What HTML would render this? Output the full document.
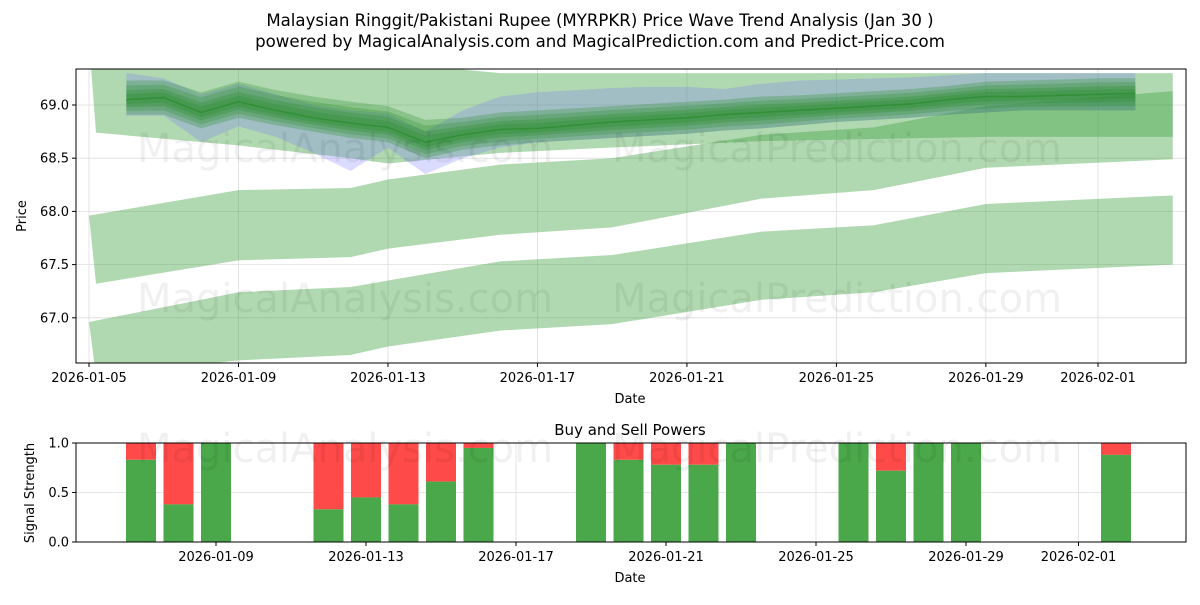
<!DOCTYPE html>
<html><head><meta charset="utf-8"><style>
body{margin:0;background:#fff;}
svg text{font-family:"DejaVu Sans","Liberation Sans",sans-serif;}
</style></head><body>
<svg id="c" width="1200" height="600" xmlns="http://www.w3.org/2000/svg">
<text x="600" y="26" text-anchor="middle" font-size="16.6">Malaysian Ringgit/Pakistani Rupee (MYRPKR) Price Wave Trend Analysis (Jan 30 )</text>
<text x="600" y="47" text-anchor="middle" font-size="16.6">powered by MagicalAnalysis.com and MagicalPrediction.com and Predict-Price.com</text>
<g id="topg"></g>
<g id="botg"></g>
</svg>
<script>
// ---- data ----
const bandDates = [0,4,7,8,11,14,18,21,24,29]; // days from 2026-01-05
const band1Hi = [69.6,69.6,69.5,69.4,69.3,69.3,69.3,69.3,69.3,69.3];
const band1Lo = [68.74,68.62,68.5,68.45,68.55,68.6,68.66,68.68,68.70,68.70];
const band2Hi = [67.96,68.2,68.22,68.3,68.44,68.5,68.72,68.79,68.99,69.13];
const band2Lo = [67.32,67.54,67.57,67.65,67.78,67.85,68.12,68.20,68.41,68.49];
const band3Hi = [66.96,67.24,67.29,67.35,67.53,67.59,67.81,67.87,68.07,68.15];
const band3Lo = [66.45,66.60,66.65,66.73,66.88,66.94,67.17,67.24,67.42,67.50];
const waveDates = [1,2,3,4,5,6,7,8,9,10,11,12,13,14,15,16,17,18,19,20,21,22,23,24,25,26,27,28];
const center = [69.05,69.07,68.93,69.03,68.95,68.88,68.83,68.79,68.65,68.72,68.77,68.78,68.81,68.84,68.86,68.88,68.91,68.93,68.95,68.97,68.99,69.01,69.05,69.08,69.08,69.09,69.10,69.11];
const greenHi = [69.23,69.23,69.12,69.22,69.14,69.08,69.03,68.99,68.86,68.88,68.93,68.95,68.97,68.99,69.01,69.03,69.05,69.08,69.09,69.11,69.13,69.15,69.18,69.22,69.23,69.24,69.25,69.25];
const greenLo = [68.91,68.91,68.78,68.88,68.81,68.75,68.69,68.65,68.50,68.58,68.62,68.65,68.67,68.69,68.71,68.73,68.76,68.78,68.81,68.84,68.86,68.88,68.91,68.93,68.95,68.95,68.95,68.95];
const blueHi = [69.3,69.25,69.1,69.2,69.1,69.0,68.95,68.92,68.75,68.95,69.08,69.12,69.14,69.16,69.17,69.17,69.15,69.2,69.23,69.24,69.25,69.26,69.28,69.3,69.3,69.3,69.3,69.3];
const blueLo = [68.9,68.9,68.65,68.8,68.7,68.55,68.38,68.6,68.35,68.5,68.6,68.65,68.67,68.69,68.71,68.73,68.76,68.78,68.81,68.84,68.86,68.88,68.91,68.93,68.95,68.95,68.95,68.95];
const yTicks = [67.0,67.5,68.0,68.5,69.0];
const xTickDays = [0,4,8,12,16,20,24,27];
const xTickLabels = ["2026-01-05","2026-01-09","2026-01-13","2026-01-17","2026-01-21","2026-01-25","2026-01-29","2026-02-01"];
const barDays = [2,3,4,7,8,9,10,11,14,15,16,17,18,21,22,23,24,28];
const buyPower = [0.83,0.38,1.0,0.33,0.45,0.38,0.61,0.95,1.0,0.83,0.78,0.78,1.0,1.0,0.72,1.0,1.0,0.88];
const botTickDays = [4,8,12,16,20,24,27];
const botTickLabels = ["2026-01-09","2026-01-13","2026-01-17","2026-01-21","2026-01-25","2026-01-29","2026-02-01"];
const sigTicks = [0.0,0.5,1.0];

const NS="http://www.w3.org/2000/svg";
function mk(parent,tag,attrs,text){const e=document.createElementNS(NS,tag);for(const k in attrs)e.setAttribute(k,attrs[k]);if(text!==undefined)e.textContent=text;parent.appendChild(e);return e;}
const L=76,R=1186,T=69,B=363;
const xs=d=>89+d*37.37;
const ys=v=>105+(69-v)*106.4;
const bT=443,bB=542;
const xb=d=>216+(d-4)*37.5;
const yb=v=>bB-(bB-bT)*v;

const topG=document.getElementById('topg');
const svgRoot=document.getElementById('c');
const defs=mk(topG,'defs',{});
const cp=mk(defs,'clipPath',{id:'cp'});mk(cp,'rect',{x:L,y:T,width:R-L,height:B-T});
yTicks.forEach(v=>{const g=mk(topG,'line',{x1:L,x2:R,y1:ys(v),y2:ys(v),stroke:'#ddd','stroke-width':0.8});

});
xTickDays.forEach(d=>{const g=mk(topG,'line',{x1:xs(d),x2:xs(d),y1:T,y2:B,stroke:'#ddd','stroke-width':0.8});

});
const plot=mk(topG,'g',{'clip-path':'url(#cp)'});
function band(days,hi,lo,fill,name,loShift){
 const sh=loShift||0;
 let p=days.map((d,i)=>xs(d)+','+ys(hi[i])).join(' ');
 p+=' '+days.map((d,i)=>(xs(d)+(i===0?sh:0))+','+ys(lo[i])).reverse().join(' ');
 const e=mk(plot,'polygon',{points:p,fill:fill});
 
 
 return e;}
band(bandDates,band1Hi,band1Lo,'rgba(60,160,60,0.4)','forecast-band-upper',7);
band(bandDates,band2Hi,band2Lo,'rgba(60,160,60,0.4)','forecast-band-middle',7);
band(bandDates,band3Hi,band3Lo,'rgba(60,160,60,0.4)','forecast-band-lower',7);
band(waveDates,blueHi,blueLo,'rgba(110,110,255,0.25)','wave-band-blue');
[1,0.75,0.5,0.3].forEach(f=>{
 const hi=greenHi.map((v,i)=>center[i]+(v-center[i])*f);
 const lo=greenLo.map((v,i)=>center[i]+(v-center[i])*f);
 band(waveDates,hi,lo,'rgba(40,140,40,0.28)','wave-band-green');});
const ln=mk(plot,'polyline',{points:waveDates.map((d,i)=>xs(d)+','+ys(center[i])).join(' '),fill:'none',stroke:'rgba(40,140,40,0.7)','stroke-width':1.5});


mk(topG,'rect',{x:L,y:T,width:R-L,height:B-T,fill:'none',stroke:'#000','stroke-width':1});
yTicks.forEach(v=>{mk(topG,'line',{x1:L-4,x2:L,y1:ys(v),y2:ys(v),stroke:'#000'});
const t=mk(topG,'text',{x:L-7,y:ys(v)+4.5,'text-anchor':'end','font-size':13},v.toFixed(1));

});
xTickDays.forEach((d,i)=>{mk(topG,'line',{x1:xs(d),x2:xs(d),y1:B,y2:B+4,stroke:'#000'});
const t=mk(topG,'text',{x:xs(d),y:B+19,'text-anchor':'middle','font-size':13},xTickLabels[i]);

});
let t1=mk(topG,'text',{x:630,y:403,'text-anchor':'middle','font-size':13},'Date');


let t2=mk(topG,'text',{x:26,y:216,'text-anchor':'middle','font-size':13,transform:'rotate(-90 26 216)'},'Price');



// bottom
const botG=document.getElementById('botg');
sigTicks.forEach(v=>{const g=mk(botG,'line',{x1:L,x2:R,y1:yb(v),y2:yb(v),stroke:'#ddd','stroke-width':0.8});

});
botTickDays.forEach(d=>{const g=mk(botG,'line',{x1:xb(d),x2:xb(d),y1:bT,y2:bB,stroke:'#ddd','stroke-width':0.8});

});
barDays.forEach((d,i)=>{
 const x=xb(d)-15;
 const r=mk(botG,'rect',{x:x,y:yb(1),width:30,height:yb(buyPower[i])-yb(1),fill:'#ff4a4a'});
 
 
 const g=mk(botG,'rect',{x:x,y:yb(buyPower[i]),width:30,height:yb(0)-yb(buyPower[i]),fill:'#4aa84a'});
 
 });
mk(botG,'rect',{x:L,y:bT,width:R-L,height:bB-bT,fill:'none',stroke:'#000','stroke-width':1});
sigTicks.forEach(v=>{mk(botG,'line',{x1:L-4,x2:L,y1:yb(v),y2:yb(v),stroke:'#000'});
const t=mk(botG,'text',{x:L-7,y:yb(v)+4.5,'text-anchor':'end','font-size':13},v.toFixed(1));

});
botTickDays.forEach((d,i)=>{mk(botG,'line',{x1:xb(d),x2:xb(d),y1:bB,y2:bB+4,stroke:'#000'});
const t=mk(botG,'text',{x:xb(d),y:bB+19,'text-anchor':'middle','font-size':13},botTickLabels[i]);

});
let t3=mk(botG,'text',{x:630,y:435,'text-anchor':'middle','font-size':15},'Buy and Sell Powers');


let t4=mk(botG,'text',{x:630,y:582,'text-anchor':'middle','font-size':13},'Date');


let t5=mk(botG,'text',{x:34,y:493,'text-anchor':'middle','font-size':13,transform:'rotate(-90 34 493)'},'Signal Strength');



// watermarks
[[345,148,'MagicalAnalysis.com'],[837,148,'MagicalPrediction.com'],[345,298,'MagicalAnalysis.com'],[837,298,'MagicalPrediction.com'],[345,448,'MagicalAnalysis.com'],[837,448,'MagicalPrediction.com']].forEach(w=>{
const t=mk(svgRoot,'text',{x:w[0],y:w[1]+14,'text-anchor':'middle','font-size':40,fill:'rgba(0,0,0,0.06)'},w[2]);

});
</script>
</body></html>
